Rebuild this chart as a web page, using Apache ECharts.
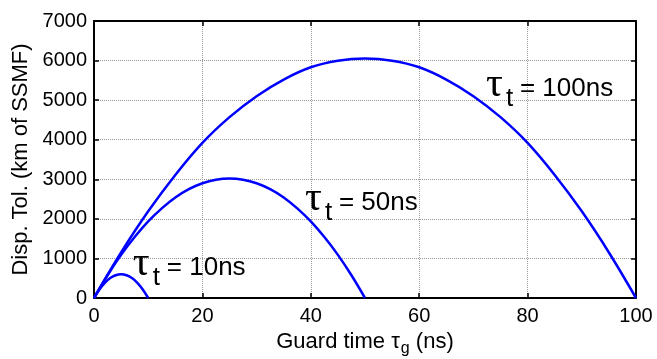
<!DOCTYPE html>
<html>
<head>
<meta charset="utf-8">
<script src="https://cdn.jsdelivr.net/npm/echarts@6/dist/echarts.min.js"></script>
<style>
html,body{margin:0;padding:0;background:#fff;}
#c{width:657px;height:359px;}
</style>
</head>
<body>
<div id="c"></div>
<script>
// Data
const tau100X = [0,5,10,15,20,25,30,35,40,45,50,55,60,65,70,75,80,85,90,95,100];
const tau100Y = [0,1150,2190,3110,3920,4570,5100,5520,5830,5995,6050,5995,5830,5520,5100,4570,3920,3110,2190,1150,0];
const tau50X = [0,2.5,5,7.5,10,12.5,15,17.5,20,22.5,25,27.5,30,32.5,35,37.5,40,42.5,45,47.5,50];
const tau50Y = [0,575,1090,1540,1935,2265,2540,2750,2900,2990,3020,2990,2900,2750,2540,2265,1935,1540,1090,575,0];
const tau10X = [0,1,2,3,4,5,6,7,8,9,10];
const tau10Y = [0,216,384,504,576,600,576,504,384,216,0];
const xTicks = [0,20,40,60,80,100];
const yTicks = [0,1000,2000,3000,4000,5000,6000,7000];
// annotation anchors (data coords: left of tau, text baseline) and labels
const annotations = [
  {x:72.5, y:5050, text:'= 100ns'},
  {x:39.1, y:2166, text:'= 50ns'},
  {x:7.35, y:523, text:'= 10ns'}
];

const pairs = (xs, ys) => xs.map((x,i)=>[x, ys[i]]);
const FONT = 'Liberation Sans, Arial, sans-serif';
const SERIF = 'Liberation Serif, Times New Roman, serif';
const BLUE = '#0000ff';

const chart = echarts.init(document.getElementById('c'), null, {renderer:'canvas'});

const gridLine = {show:true, lineStyle:{color:'#999', type:[1,1], width:1}};
const axisLine = {show:true, onZero:false, lineStyle:{color:'#000', width:2}};
const tick = {show:true, inside:true, length:5, lineStyle:{color:'#000', width:1.5}};

const option = {
  backgroundColor:'#fff',
  animation:false,
  grid:{left:94, right:21, top:21, bottom:61, outerBoundsMode:'none', containLabel:false},
  xAxis:[{
    type:'value', min:0, max:100, interval:20,
    axisLine:axisLine, axisTick:tick, splitLine:gridLine,
    axisLabel:{color:'#000', fontSize:20, fontFamily:FONT, margin:8,
      formatter:(v)=> xTicks.includes(v) ? String(v) : ''},
    name:'{a|Guard time τ}{s|g}{a| (ns)}',
    nameLocation:'middle', nameGap:28,
    nameTextStyle:{color:'#000', fontFamily:FONT,
      rich:{a:{fontSize:22, fontFamily:FONT, color:'#000'},
            s:{fontSize:16, fontFamily:FONT, color:'#000', padding:[14,0,0,1]}}}
  },{
    type:'value', position:'top', min:0, max:100, interval:20,
    axisLine:axisLine, axisTick:tick, splitLine:{show:false}, axisLabel:{show:false}
  }],
  yAxis:[{
    type:'value', min:0, max:7000, interval:1000,
    axisLine:axisLine, axisTick:tick, splitLine:gridLine,
    axisLabel:{color:'#000', fontSize:20, fontFamily:FONT, margin:7,
      formatter:(v)=> yTicks.includes(v) ? String(v) : ''},
    name:'Disp. Tol. (km of SSMF)', nameLocation:'middle', nameGap:58,
    nameTextStyle:{color:'#000', fontSize:22, fontFamily:FONT}
  },{
    type:'value', position:'right', min:0, max:7000, interval:1000,
    axisLine:axisLine, axisTick:tick, splitLine:{show:false}, axisLabel:{show:false}
  }],
  series:[
    {type:'line', data:pairs(tau100X,tau100Y), smooth:0.35, showSymbol:false, symbol:'none',
     lineStyle:{color:BLUE, width:2.5}, z:5},
    {type:'line', data:pairs(tau50X,tau50Y), smooth:0.35, showSymbol:false, symbol:'none',
     lineStyle:{color:BLUE, width:2.5}, z:5},
    {type:'line', data:pairs(tau10X,tau10Y), smooth:0.35, showSymbol:false, symbol:'none',
     lineStyle:{color:BLUE, width:2.5}, z:5}
  ]
};
chart.setOption(option);

const graphics = [];
annotations.forEach(a=>{
  const p = chart.convertToPixel({gridIndex:0}, [a.x, a.y]);
  const bx = p[0], by = p[1];
  graphics.push({type:'text', x:bx-1, y:by-13.5, z:10,
    style:{text:'τ', fontSize:42, fontFamily:SERIF, fill:'#000', textAlign:'left', textVerticalAlign:'middle'}});
  graphics.push({type:'text', x:bx+19, y:by+1, z:10,
    style:{text:'t', fontSize:26, fontFamily:FONT, fill:'#000', textAlign:'left', textVerticalAlign:'middle'}});
  graphics.push({type:'text', x:bx+33, y:by-9, z:10,
    style:{text:a.text, fontSize:26, fontFamily:FONT, fill:'#000', textAlign:'left', textVerticalAlign:'middle'}});
});
chart.setOption({graphic:graphics});
</script>
</body>
</html>
